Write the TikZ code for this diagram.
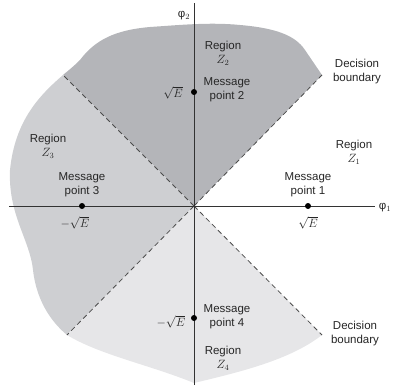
\documentclass[tikz,border=0pt]{standalone}
\usepackage{fontspec}
\setmainfont{Liberation Sans}
\begin{document}
\begin{tikzpicture}[x=1pt,y=-1pt,
  lbl/.style={font=\fontsize{11.5}{14}\selectfont, align=center, inner sep=0pt, text=black!85},
  axisline/.style={draw=black!80, line width=0.8pt},
  boundary/.style={draw=black!70, dashed, dash pattern=on 5pt off 3.5pt, line width=0.8pt},
  msgdot/.style={circle, fill=black, inner sep=0pt, minimum size=6pt},
  regA/.style={fill=zdark},
  regB/.style={fill=zmid},
  regC/.style={fill=zlight}]
\definecolor{zdark}{HTML}{B4B5B9}
\definecolor{zmid}{HTML}{CECFD2}
\definecolor{zlight}{HTML}{E6E6E8}
\useasboundingbox (0,0) rectangle (393,385);

% origin and the ends of the two decision boundaries
\coordinate (O) at (194,206);
\coordinate (ul) at (63,75);
\coordinate (ur) at (322,75);
\coordinate (ll) at (67,335);
\coordinate (lr) at (322,335);

% decision regions
\path[regA] (O) -- (ul) to[out=40,in=-135] (80,60)
  .. controls (95,40) and (115,30) .. (150,27)
  .. controls (180,25) and (210,22) .. (240,25)
  .. controls (275,28) and (295,35) .. (305,50)
  -- (ur) -- cycle;
\path[regB] (O) -- (ul)
  .. controls (40,95) and (15,120) .. (10,170)
  .. controls (8,215) and (30,240) .. (33,270)
  .. controls (37,305) and (55,325) .. (ll) -- cycle;
\path[regC] (O) -- (ll)
  .. controls (100,355) and (150,365) .. (194,383)
  .. controls (240,372) and (290,360) .. (lr) -- cycle;

% decision boundaries
\draw[boundary] (O) -- (ul);
\draw[boundary] (O) -- (ur);
\draw[boundary] (O) -- (ll);
\draw[boundary] (O) -- (lr);

% signal-space axes
\coordinate (xs) at (9,206);
\coordinate (xe) at (375,206);
\coordinate (ys) at (194,3);
\coordinate (ye) at (194,385);
\draw[axisline] (xs) -- (xe);
\draw[axisline] (ye) -- (ys);
\node[lbl] (phi1) at (385,208) {φ$_1$};
\node[lbl] (phi2) at (184,16) {φ$_2$};

% message points
\node[msgdot] (m1) at (308,206) {};
\node[msgdot] (m2) at (194,92) {};
\node[msgdot] (m3) at (82,206) {};
\node[msgdot] (m4) at (194,318) {};

\node[lbl] (e1) at (308,223) {$\sqrt{E}$};
\node[lbl] (e2) at (173,93) {$\sqrt{E}$};
\node[lbl] (e3) at (75,223) {$-\sqrt{E}$};
\node[lbl] (e4) at (171,322) {$-\sqrt{E}$};

\node[lbl] (t1) at (308,185) {Message\\point 1};
\node[lbl] (t2) at (227,90) {Message\\point 2};
\node[lbl] (t3) at (82,185) {Message\\point 3};
\node[lbl] (t4) at (227,317) {Message\\point 4};

% region labels
\node[lbl] (z1) at (354,152) {Region\\$Z_1$};
\node[lbl] (z2) at (223,53) {Region\\$Z_2$};
\node[lbl] (z3) at (48,146) {Region\\$Z_3$};
\node[lbl] (z4) at (223,358) {Region\\$Z_4$};

\node[lbl] (db1) at (357,72) {Decision\\boundary};
\node[lbl] (db2) at (355,334) {Decision\\boundary};
\end{tikzpicture}
\end{document}
